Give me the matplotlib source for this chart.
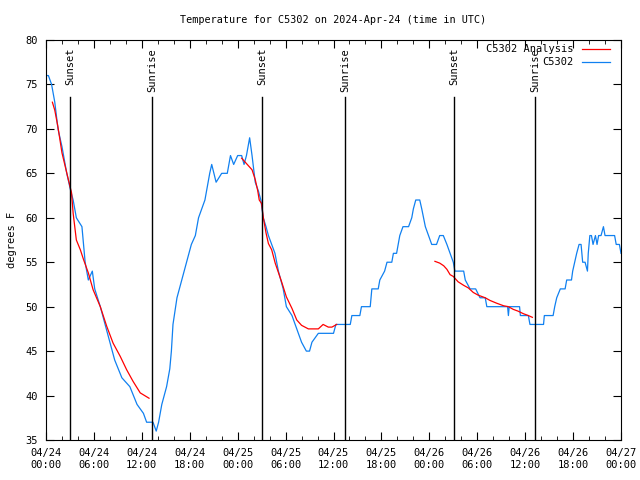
import numpy as np
import matplotlib
matplotlib.use("Agg")
import matplotlib.pyplot as plt

# hours since 2024-04-24 00:00 UTC, temperature in deg F
obs_hours = [0.0, 0.3, 0.7, 1.1, 1.5, 2.0, 2.6, 3.1, 3.4, 3.8, 4.5, 4.9, 5.3, 5.8, 6.1,
             6.8, 7.4, 8.0, 8.6, 9.5, 10.5, 11.4, 12.2, 12.6, 13.4, 13.8, 14.1, 14.5,
             15.1, 15.5, 15.7, 15.9, 16.4, 17.0, 17.6, 18.2, 18.7, 19.1, 19.5, 19.9,
             20.5, 20.75, 21.3, 22.0, 22.7, 23.1, 23.5, 24.0, 24.5, 24.8, 25.1, 25.5,
             25.8, 26.2, 26.6, 26.9, 27.2, 27.55, 27.85, 28.26, 28.67, 29.1, 29.4, 29.7,
             30.1, 30.8, 31.2, 31.6, 32.0, 32.6, 33.0, 33.3, 34.1, 36.0, 36.3, 38.1,
             38.3, 39.3, 39.5, 40.6, 40.8, 41.6, 41.8, 42.4, 42.7, 43.3, 43.5, 43.9,
             44.3, 44.7, 45.4, 45.8, 46.0, 46.3, 46.8, 47.05, 47.5, 47.9, 48.3, 48.9,
             49.3, 49.75, 50.2, 50.6, 51.0, 51.2, 52.3, 52.5, 53.1, 53.8, 54.35, 55.0,
             55.2, 57.8, 57.9, 58.0, 59.3, 59.4, 60.4, 60.6, 62.3, 62.4, 63.5, 63.7,
             63.95, 64.4, 65.0, 65.2, 65.8, 65.95, 66.2, 66.45, 66.75, 67.0, 67.2, 67.5,
             67.8, 67.9, 68.1, 68.3, 68.5, 68.8, 69.0, 69.2, 69.5, 69.8, 70.0, 71.2,
             71.4, 71.8, 72.0]
obs_temp = [76, 76, 75, 73, 70, 68, 65, 63, 62, 60, 59, 55, 53, 54, 52,
            50, 48, 46, 44, 42, 41, 39, 38, 37, 37, 36, 37, 39,
            41, 43, 45, 48, 51, 53, 55, 57, 58, 60, 61, 62,
            65, 66, 64, 65, 65, 67, 66, 67, 67, 66, 67, 69,
            67, 64, 63, 62, 60, 59, 58, 57, 56, 54, 53, 52,
            50, 49, 48, 47, 46, 45, 45, 46, 47, 47, 48, 48,
            49, 49, 50, 50, 52, 52, 53, 54, 55, 55, 56, 56,
            58, 59, 59, 60, 61, 62, 62, 61, 59, 58, 57, 57,
            58, 58, 57, 56, 55, 54, 54, 53, 52, 52, 51, 51,
            50, 50, 49, 50, 50, 49, 49, 48, 48, 49, 49, 50,
            51, 52, 52, 53, 53, 54, 55, 56, 57, 57, 55, 55,
            54, 56, 58, 58, 57, 58, 57, 58, 58, 59, 58, 58,
            57, 57, 56]

# analysis series, nan separates the three runs
ana_hours = [0.8, 1.1, 1.5, 2.0, 2.4, 2.8, 3.2, 3.4, 3.8, 4.3, 4.7, 5.3, 5.9, 6.8,
             7.6, 8.4, 9.3, 10.1, 10.9, 11.8, 12.9, np.nan,
             24.5, 25.1, 25.8, 26.2, 26.5, 26.7, 27.0, 27.2, 27.55, 27.85, 28.26, 28.7,
             29.5, 30.1, 30.8, 31.4, 32.0, 32.85, 34.1, 34.7, 35.35, 35.8, 36.4, np.nan,
             48.7, 49.3, 49.8, 50.2, 50.6, 51.0, 51.6, 52.3, 52.9, 53.5, 54.1, 55.0,
             55.6, 56.4, 57.3, 57.9, 58.5, 59.1, 59.8, 60.4, 60.9]
ana_temp = [73.0, 72.1, 70.2, 67.3, 65.8, 64.3, 62.8, 60.5, 57.5, 56.4, 55.3, 53.8,
            51.9, 50.0, 47.8, 45.9, 44.4, 42.9, 41.6, 40.3, 39.7, np.nan,
            66.7, 66.1, 65.4, 64.3, 63.1, 62.0, 61.6, 60.1, 58.3, 57.1, 56.4, 54.9,
            52.8, 51.1, 49.8, 48.5, 47.9, 47.5, 47.5, 48.0, 47.7, 47.7, 48.0, np.nan,
            55.1, 54.9, 54.6, 54.2, 53.6, 53.4, 52.8, 52.4, 52.1, 51.6, 51.3, 51.0,
            50.7, 50.4, 50.1, 50.0, 49.7, 49.5, 49.2, 49.0, 48.8]

sun_hours = [3.0, 13.3, 27.05, 37.45, 51.1, 61.25]
sun_labels = ["Sunset", "Sunrise", "Sunset", "Sunrise", "Sunset", "Sunrise"]

tick_hours = [0, 6, 12, 18, 24, 30, 36, 42, 48, 54, 60, 66, 72]
tick_labels = ["04/24\n00:00", "04/24\n06:00", "04/24\n12:00", "04/24\n18:00",
               "04/25\n00:00", "04/25\n06:00", "04/25\n12:00", "04/25\n18:00",
               "04/26\n00:00", "04/26\n06:00", "04/26\n12:00", "04/26\n18:00",
               "04/27\n00:00"]

plt.rcParams['font.family'] = ['DejaVu Sans Mono']
plt.rcParams['font.size'] = 7.5

fig = plt.figure(figsize=(6.4, 4.8), dpi=100)
ax = fig.add_axes([46/640, 40/480, 575/640, 400/480])

blue = '#1080f0'
red = '#ff0000'
ax.plot(obs_hours, obs_temp, color=blue, lw=0.9)
ax.plot(ana_hours, ana_temp, color=red, lw=0.9)

for h, lab in zip(sun_hours, sun_labels):
    ax.axvline(h, ymin=0, ymax=0.8575, color='black', lw=1.0)
    ax.text(h, 0.98, lab, rotation=90, ha='center', va='top',
            transform=ax.get_xaxis_transform())

ax.set_xlim(0, 72)
ax.set_ylim(35, 80)
ax.set_xticks(tick_hours)
ax.set_xticklabels(tick_labels)
ax.set_xticks(np.arange(0, 73, 2), minor=True)
ax.set_yticks(np.arange(35, 81, 5))
ax.tick_params(direction='in', top=True, right=True, which='both', pad=6)
ax.tick_params(which='major', length=6)
ax.tick_params(which='minor', length=3)
ax.set_ylabel("degrees F", labelpad=6)
ax.set_title("Temperature for C5302 on 2024-Apr-24 (time in UTC)", pad=12, fontsize=7.3)

# gnuplot style key
ax.text(0.918, 0.9775, "C5302 Analysis", ha='right', va='center', transform=ax.transAxes)
ax.plot([0.932, 0.981], [0.9775, 0.9775], color=red, lw=0.9, transform=ax.transAxes)
ax.text(0.918, 0.945, "C5302", ha='right', va='center', transform=ax.transAxes)
ax.plot([0.932, 0.981], [0.945, 0.945], color=blue, lw=0.9, transform=ax.transAxes)

fig.savefig("out.png", dpi=100)
